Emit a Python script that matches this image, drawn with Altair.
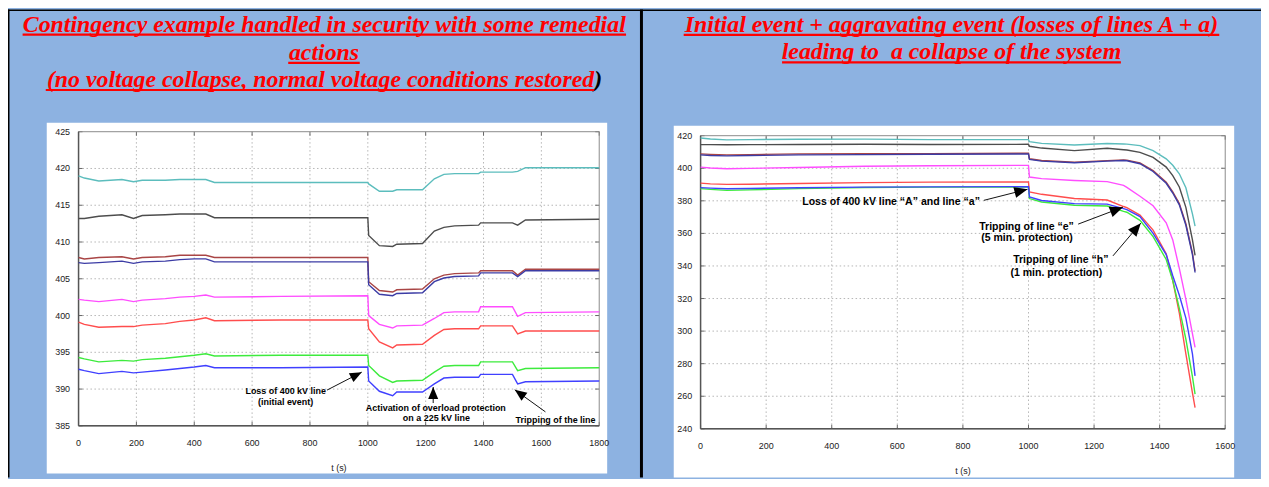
import math
import altair as alt
import pandas as pd

# ------------------------------------------------------------------ data
SERIES = ["teal", "black", "brown", "navy", "magenta", "red", "green", "blue"]
SERIES_COLORS = ["#5CBDBD", "#4D4D4D", "#A94545", "#3C3CA5",
                 "#FF4DFF", "#FF4D4D", "#3DEB3D", "#4040FF"]

# Left panel: contingency handled in security (t in s, voltage in kV)
T_LEFT = [0, 20, 70, 150, 190, 220, 300, 350, 400, 440, 470, 700, 1000,
          1003, 1040, 1086, 1100, 1189, 1230, 1263, 1300, 1383, 1390, 1500, 1518, 1545, 1800]
LEFT_TEAL = [419.0, 418.7, 418.3, 418.5, 418.2, 418.4, 418.4, 418.5, 418.5, 418.5, 418.1, 418.1, 418.1,
             417.9, 416.9, 416.9, 417.1, 417.1, 418.6, 419.2, 419.3, 419.3, 419.5, 419.5, 419.6, 420.1, 420.1]
LEFT_BLACK = [413.2, 413.2, 413.5, 413.7, 413.2, 413.6, 413.7, 413.8, 413.8, 413.8, 413.3, 413.3, 413.3,
              410.9, 409.5, 409.4, 409.7, 409.8, 411.5, 412.0, 412.2, 412.3, 412.6, 412.6, 412.3, 413.0, 413.1]
LEFT_BROWN = [407.9, 407.7, 407.9, 408.0, 407.7, 407.9, 408.0, 408.2, 408.2, 408.2, 407.9, 407.9, 407.9,
              404.6, 403.4, 403.2, 403.5, 403.6, 405.0, 405.5, 405.7, 405.8, 406.1, 406.1, 405.5, 406.3, 406.3]
LEFT_NAVY = [407.2, 407.1, 407.2, 407.4, 407.1, 407.3, 407.4, 407.6, 407.7, 407.7, 407.3, 407.3, 407.3,
             404.2, 402.9, 402.7, 403.0, 403.1, 404.6, 405.1, 405.3, 405.4, 405.8, 405.8, 405.3, 406.1, 406.1]
LEFT_MAGENTA = [402.2, 402.1, 401.9, 402.2, 401.9, 402.1, 402.3, 402.5, 402.6, 402.8, 402.5, 402.6, 402.7,
                400.0, 398.8, 398.3, 398.6, 398.7, 399.6, 400.4, 400.5, 400.5, 401.2, 401.2, 399.9, 400.4, 400.5]
LEFT_RED = [399.1, 398.8, 398.4, 398.5, 398.5, 398.7, 398.9, 399.2, 399.4, 399.7, 399.3, 399.4, 399.4,
            398.2, 396.4, 395.6, 396.0, 396.1, 397.3, 398.1, 398.2, 398.2, 398.6, 398.6, 397.5, 397.9, 397.9]
LEFT_GREEN = [394.3, 394.1, 393.7, 393.9, 393.8, 394.0, 394.2, 394.4, 394.6, 394.8, 394.5, 394.6, 394.6,
              393.2, 391.8, 390.9, 391.1, 391.2, 392.3, 393.1, 393.2, 393.2, 393.7, 393.7, 392.5, 392.8, 392.9]
LEFT_BLUE = [392.7, 392.5, 392.1, 392.4, 392.2, 392.3, 392.6, 392.8, 393.0, 393.2, 392.9, 392.9, 393.0,
             391.1, 389.7, 389.1, 389.6, 389.6, 390.7, 391.5, 391.6, 391.6, 392.0, 392.0, 390.7, 391.0, 391.1]

# Right panel: initial + aggravating event leading to collapse
T_RIGHT = [0, 30, 80, 150, 300, 500, 700, 1000,
           1003, 1040, 1140, 1240, 1290, 1300, 1340, 1380, 1420, 1440, 1460, 1480, 1500, 1508]
RIGHT_TEAL = [418.6, 418.0, 417.4, 417.6, 417.8, 417.9, 417.6, 417.6,
              416.3, 415.3, 414.3, 415.2, 414.9, 414.8, 413.9, 410.8, 405.8, 401.8, 396.6, 388.0, 372.0, 364.5]
RIGHT_BLACK = [414.5, 414.5, 414.4, 414.5, 414.6, 414.7, 414.6, 414.7,
               413.5, 412.4, 410.8, 412.3, 411.4, 411.2, 409.8, 406.7, 400.7, 395.5, 388.5, 376.0, 356.0, 346.5]
RIGHT_BROWN = [408.8, 408.5, 408.2, 408.4, 408.8, 408.9, 409.0, 409.2,
               405.8, 404.8, 403.7, 404.7, 405.1, 405.0, 403.3, 398.6, 391.5, 385.5, 378.3, 366.0, 348.0, 337.0]
RIGHT_NAVY = [408.2, 407.8, 407.6, 407.8, 408.2, 408.4, 408.6, 408.8,
              405.4, 404.4, 403.4, 404.4, 404.8, 404.6, 402.8, 398.0, 390.8, 384.8, 377.5, 365.0, 347.0, 336.0]
RIGHT_MAGENTA = [400.7, 400.2, 399.7, 399.9, 400.5, 401.2, 401.5, 401.8,
                 394.6, 393.6, 392.5, 391.8, 389.5, 388.3, 382.8, 377.0, 366.5, 356.0, 338.5, 319.5, 298.5, 290.0]
RIGHT_RED = [390.9, 390.4, 390.1, 390.2, 390.6, 391.2, 391.5, 391.6,
             385.4, 384.0, 381.4, 380.5, 376.5, 375.8, 371.2, 362.0, 347.5, 331.0, 311.0, 286.0, 262.0, 253.0]
RIGHT_GREEN = [387.5, 387.0, 386.4, 386.7, 387.5, 388.2, 388.4, 388.5,
               381.4, 379.3, 377.3, 376.8, 373.5, 373.0, 368.0, 358.0, 344.0, 331.0, 314.0, 295.0, 272.0, 261.3]
RIGHT_BLUE = [388.1, 387.8, 387.4, 387.6, 388.0, 388.4, 388.6, 388.7,
              382.4, 380.2, 378.3, 378.0, 375.2, 374.6, 370.3, 360.0, 347.0, 334.0, 322.0, 308.0, 286.0, 272.5]

LEFT_XTICKS = [0, 200, 400, 600, 800, 1000, 1200, 1400, 1600, 1800]
LEFT_YTICKS = [385, 390, 395, 400, 405, 410, 415, 420, 425]
RIGHT_XTICKS = [0, 200, 400, 600, 800, 1000, 1200, 1400, 1600]
RIGHT_YTICKS = [240, 260, 280, 300, 320, 340, 360, 380, 400, 420]
X_TITLE = "t (s)"

# annotations (text centres and arrows, in data units)
LEFT_NOTE_TEXT = ["Loss of 400 kV line", "(initial event)",
                  "Activation of overload protection", "on a 225 kV line",
                  "Tripping of the line"]
LEFT_NOTE_T = [716, 716, 1235, 1237, 1649]
LEFT_NOTE_V = [389.7, 388.2, 387.4, 386.1, 385.8]
LEFT_ARROW_T0 = [859, 1226, 1614]
LEFT_ARROW_V0 = [389.86, 388.1, 386.9]
LEFT_ARROW_T1 = [979, 1226, 1508]
LEFT_ARROW_V1 = [392.3, 390.27, 389.9]

RIGHT_NOTE_TEXT = ["Loss of 400 kV line \u201cA\u201d and line \u201ca\u201d",
                   "Tripping of line \u201ce\u201d", "(5 min. protection)",
                   "Tripping of line \u201ch\u201d", "(1 min. protection)"]
RIGHT_NOTE_T = [581, 994, 995.5, 1098.5, 1085]
RIGHT_NOTE_V = [379.3, 364.1, 357.2, 343.7, 335.6]
RIGHT_ARROW_T0 = [864, 1151.5, 1257.6]
RIGHT_ARROW_V0 = [380.3, 365.7, 346.2]
RIGHT_ARROW_T1 = [997, 1288, 1342.4]
RIGHT_ARROW_V1 = [387.1, 376.1, 366.3]

# ------------------------------------------------------------------ layout
W, H = 1261, 471
BLUE_BG = "#8DB2E1"
TITLE_RED = "#FF0000"
SERIF = "Liberation Serif, Times New Roman, serif"
SANS = "Liberation Sans, Arial, sans-serif"
LABEL_COLOR = "#222222"

dummy = pd.DataFrame({"k": [0]})


def ptext(txt, x, y, **kw):
    return alt.Chart(dummy).mark_text(**kw).encode(
        x=alt.value(x), y=alt.value(y), text=alt.value(txt))


def prect(x, x2, y, y2, color):
    return alt.Chart(dummy).mark_rect(color=color).encode(
        x=alt.value(x), x2=alt.value(x2), y=alt.value(y), y2=alt.value(y2))


def prule(x, x2, y, y2, color, width):
    return alt.Chart(dummy).mark_rule(color=color, strokeWidth=width).encode(
        x=alt.value(x), x2=alt.value(x2), y=alt.value(y), y2=alt.value(y2))


title_kw = dict(font=SERIF, fontSize=24, fontStyle="italic", fontWeight="bold",
                baseline="alphabetic")

deco = [
    prect(39, 603, 114, 467, "white"),
    prect(670, 1234, 117, 471, "white"),
    prect(0, W, 0, 1.5, "black"),
    prect(0, 1.5, 0, H, "black"),
    prect(636, 639, 0, H, "black"),
    # left title
    ptext("Contingency example handled in security with some remedial", 318.3, 22.7,
          align="center", color=TITLE_RED, **title_kw),
    ptext("actions", 318, 51, align="center", color=TITLE_RED, **title_kw),
    ptext("(no voltage collapse, normal voltage conditions restored", 590, 78,
          align="right", color=TITLE_RED, **title_kw),
    ptext(")", 590, 78, align="left", color="black", **title_kw),
    prule(14.7, 622, 25.3, 25.3, TITLE_RED, 2.2),
    prule(282, 354, 53.8, 53.8, TITLE_RED, 2.2),
    prule(38, 590, 81, 81, TITLE_RED, 2.2),
    # right title
    ptext("Initial event + aggravating event (losses of lines A + a)", 949.5, 22.7,
          align="center", color=TITLE_RED, **title_kw),
    ptext("leading to\u00a0 a collapse of the system", 949.5, 50.3,
          align="center", color=TITLE_RED, **title_kw),
    prule(680, 1219, 25.5, 25.5, TITLE_RED, 2.2),
    prule(779, 1120, 53.3, 53.3, TITLE_RED, 2.2),
]


def long_df(times, cols):
    rows = []
    for name, vals in zip(SERIES, cols):
        for t, v in zip(times, vals):
            rows.append({"t": t, "v": v, "s": name})
    return pd.DataFrame(rows)


def panel(lines_df, xdom, ydom, xr, yr, xticks, yticks,
          notes, arrows, note_size, head_size):
    xs = alt.Scale(domain=xdom, range=xr, nice=False, zero=False)
    ys = alt.Scale(domain=ydom, range=yr, nice=False, zero=False)

    def fx(t):
        return xr[0] + (t - xdom[0]) / (xdom[1] - xdom[0]) * (xr[1] - xr[0])

    def fy(v):
        return yr[0] + (v - ydom[0]) / (ydom[1] - ydom[0]) * (yr[1] - yr[0])

    X = lambda f: alt.X(f, type="quantitative", scale=xs, axis=None)
    Y = lambda f: alt.Y(f, type="quantitative", scale=ys, axis=None)

    x0, x1 = xdom
    y0, y1 = ydom
    vgrid = pd.DataFrame({"t": xticks[1:-1], "a": y0, "b": y1})
    hgrid = pd.DataFrame({"v": yticks[1:-1], "a": x0, "b": x1})
    xt = pd.DataFrame({"t": xticks, "lo": y0, "hi": y1, "lab": [str(v) for v in xticks]})
    yt = pd.DataFrame({"v": yticks, "lo": x0, "hi": x1, "lab": [str(v) for v in yticks]})
    frame = pd.DataFrame({"a": [x0], "b": [x1], "c": [y0], "d": [y1],
                          "m": [(x0 + x1) / 2], "title": [X_TITLE]})

    grid_kw = dict(color="#B5B5B5", strokeWidth=1, strokeDash=[1.5, 2.5])
    lab_kw = dict(font=SANS, fontSize=9, color=LABEL_COLOR, baseline="middle")
    layers = [
        alt.Chart(vgrid).mark_rule(**grid_kw).encode(x=X("t"), y=Y("a"), y2="b"),
        alt.Chart(hgrid).mark_rule(**grid_kw).encode(y=Y("v"), x=X("a"), x2="b"),
        alt.Chart(xt).mark_rule(color="#666666", y2Offset=-4).encode(x=X("t"), y=Y("lo"), y2="lo"),
        alt.Chart(xt).mark_rule(color="#666666", y2Offset=4).encode(x=X("t"), y=Y("hi"), y2="hi"),
        alt.Chart(yt).mark_rule(color="#666666", x2Offset=4).encode(y=Y("v"), x=X("lo"), x2="lo"),
        alt.Chart(yt).mark_rule(color="#666666", x2Offset=-4).encode(y=Y("v"), x=X("hi"), x2="hi"),
        alt.Chart(frame).mark_rect(fill="transparent", stroke="#8A8A8A", strokeWidth=1).encode(
            x=X("a"), x2="b", y=Y("c"), y2="d"),
        alt.Chart(frame).mark_rule(color="#555555", strokeWidth=1.5).encode(
            x=X("a"), y=Y("c"), y2="d"),
        alt.Chart(frame).mark_rule(color="#555555", strokeWidth=1.5).encode(
            x=X("a"), x2="b", y=Y("c")),
        # tick labels and axis title, placed through the scales
        alt.Chart(xt).mark_text(align="center", dy=17, **lab_kw).encode(
            x=X("t"), y=Y("lo"), text="lab:N"),
        alt.Chart(yt).mark_text(align="right", dx=-8.5, **lab_kw).encode(
            x=X("lo"), y=Y("v"), text="lab:N"),
        alt.Chart(frame).mark_text(align="center", dy=42, **lab_kw).encode(
            x=X("m"), y=Y("c"), text="title:N"),
    ]

    line = alt.Chart(lines_df).mark_line(strokeWidth=1.4).encode(
        x=X("t"), y=Y("v"),
        color=alt.Color("s:N", scale=alt.Scale(domain=SERIES, range=SERIES_COLORS), legend=None),
    )
    layers.append(line)

    ntext, nt, nv = notes
    notes_df = pd.DataFrame({"label": ntext, "t": nt, "v": nv})
    layers.append(alt.Chart(notes_df).mark_text(
        font=SANS, fontSize=note_size, fontWeight="bold", color="black",
        align="center", baseline="middle").encode(x=X("t"), y=Y("v"), text="label:N"))

    t0, v0, t1, v1 = arrows
    ang = []
    for a, b, c, d in zip(t0, v0, t1, v1):
        dx = fx(c) - fx(a)
        dy = fy(d) - fy(b)
        ang.append(math.degrees(math.atan2(dx, -dy)) % 360)
    arr_df = pd.DataFrame({"t0": t0, "v0": v0, "t1": t1, "v1": v1, "ang": ang})
    layers.append(alt.Chart(arr_df).mark_rule(color="#111111", strokeWidth=1).encode(
        x=X("t0"), y=Y("v0"), x2="t1", y2="v1"))
    layers.append(alt.Chart(arr_df).mark_point(
        shape="M0,0L0.42,1L-0.42,1Z", filled=True, color="black", opacity=1,
        size=head_size, strokeWidth=0).encode(
        x=X("t1"), y=Y("v1"), angle=alt.Angle("ang:Q", scale=None)))

    return alt.layer(*layers)


left_df = long_df(T_LEFT, [LEFT_TEAL, LEFT_BLACK, LEFT_BROWN, LEFT_NAVY,
                           LEFT_MAGENTA, LEFT_RED, LEFT_GREEN, LEFT_BLUE])
right_df = long_df(T_RIGHT, [RIGHT_TEAL, RIGHT_BLACK, RIGHT_BROWN, RIGHT_NAVY,
                             RIGHT_MAGENTA, RIGHT_RED, RIGHT_GREEN, RIGHT_BLUE])

left = panel(left_df, [0, 1800], [385, 425], [71, 595], [419, 123],
             LEFT_XTICKS, LEFT_YTICKS,
             (LEFT_NOTE_TEXT, LEFT_NOTE_T, LEFT_NOTE_V),
             (LEFT_ARROW_T0, LEFT_ARROW_V0, LEFT_ARROW_T1, LEFT_ARROW_V1),
             9, 576)
right = panel(right_df, [0, 1600], [240, 420], [697, 1225], [422, 127],
              RIGHT_XTICKS, RIGHT_YTICKS,
              (RIGHT_NOTE_TEXT, RIGHT_NOTE_T, RIGHT_NOTE_V),
              (RIGHT_ARROW_T0, RIGHT_ARROW_V0, RIGHT_ARROW_T1, RIGHT_ARROW_V1),
              10.6, 700)

chart = alt.layer(*deco, left, right).resolve_scale(
    x="independent", y="independent"
).properties(
    width=W, height=H, padding=0, autosize=alt.AutoSizeParams(type="none")
).configure(background=BLUE_BG).configure_view(strokeWidth=0)

chart.save("out.html", embed_options={"renderer": "svg", "actions": False})
